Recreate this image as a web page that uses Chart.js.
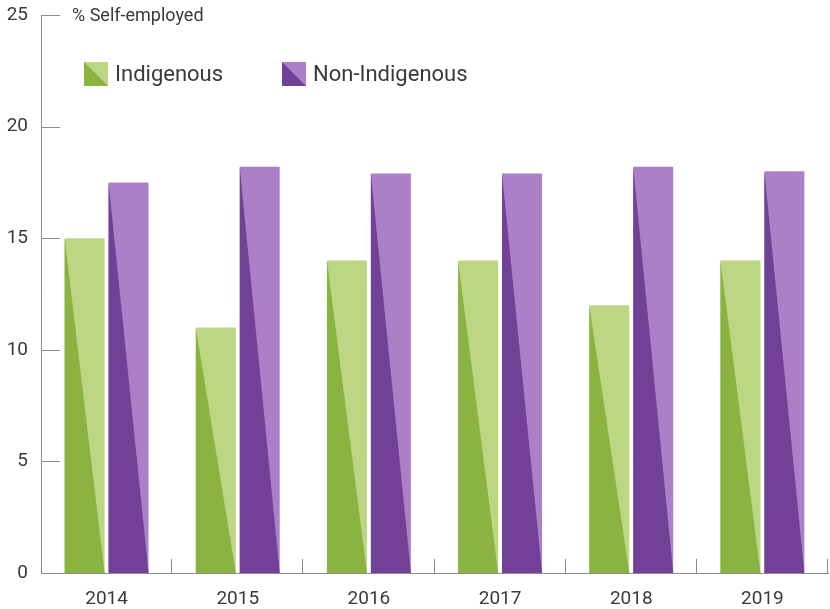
<!DOCTYPE html>
<html>
<head>
<meta charset="utf-8">
<script src="https://cdn.jsdelivr.net/npm/chart.js@4.4.1/dist/chart.umd.min.js"></script>
<style>
    body { margin: 0; background: #fff; }
</style>
</head>
<body>
<canvas id="selfEmployed" width="830" height="609"></canvas>
<script>
const years = ['2014', '2015', '2016', '2017', '2018', '2019'];
const indigenous = [15, 11, 14, 14, 12, 14];
const nonIndigenous = [17.5, 18.2, 17.9, 17.9, 18.2, 18.0];
const yTicks = [0, 5, 10, 15, 20, 25];

const FONT = 'Roboto, "Open Sans", sans-serif';
const TEXT = '#3a3a3a';
const AXIS = '#8c8c8c';

// light = top-right half, dark = bottom-left half
const colors = [
    { light: '#bcd684', dark: '#8ab342' },
    { light: '#ac80c6', dark: '#734098' },
];

// draws the dark triangle over each bar
const splitBars = {
    id: 'splitBars',
    afterDatasetsDraw(chart) {
        const ctx = chart.ctx;
        chart.data.datasets.forEach((ds, i) => {
            let meta = chart.getDatasetMeta(i);
            meta.data.forEach(bar => {
                let left = bar.x - bar.width / 2;
                let right = bar.x + bar.width / 2;
                ctx.save();
                ctx.fillStyle = colors[i].dark;
                ctx.beginPath();
                ctx.moveTo(left, bar.y);
                ctx.lineTo(left, bar.base);
                ctx.lineTo(right, bar.base);
                ctx.closePath();
                ctx.fill();
                ctx.restore();
            });
        });
    }
};

// inner tick marks, title and legend
const decorations = {
    id: 'decorations',
    afterDraw(chart) {
        const ctx = chart.ctx;
        const area = chart.chartArea;
        const x = chart.scales.x;
        const y = chart.scales.y;
        ctx.save();
        ctx.strokeStyle = AXIS;
        ctx.lineWidth = 1;
        ctx.beginPath();
        for (let v of yTicks) {
            let py = Math.round(y.getPixelForValue(v)) + 0.5;
            ctx.moveTo(area.left, py);
            ctx.lineTo(area.left + 19, py);
        }
        for (let i = 1; i <= years.length; i++) {
            let px = Math.round(x.getPixelForValue(i - 0.5)) - 0.5;
            ctx.moveTo(px, area.bottom);
            ctx.lineTo(px, area.bottom - 14);
        }
        ctx.stroke();

        ctx.fillStyle = TEXT;
        ctx.textBaseline = 'middle';
        ctx.font = '18px ' + FONT;
        ctx.fillText('% Self-employed', area.left + 31, y.getPixelForValue(25) + 1);

        // legend
        const items = [
            { label: 'Indigenous', x: 84 },
            { label: 'Non-Indigenous', x: 282 },
        ];
        ctx.font = '22px ' + FONT;
        items.forEach((item, i) => {
            let bx = item.x, by = 62, s = 24;
            ctx.fillStyle = colors[i].light;
            ctx.fillRect(bx, by, s, s);
            ctx.fillStyle = colors[i].dark;
            ctx.beginPath();
            ctx.moveTo(bx, by);
            ctx.lineTo(bx, by + s);
            ctx.lineTo(bx + s, by + s);
            ctx.closePath();
            ctx.fill();
            ctx.fillStyle = TEXT;
            ctx.fillText(item.label, bx + s + 7, by + s / 2 + 1);
        });
        ctx.restore();
    }
};

new Chart(document.getElementById('selfEmployed'), {
    type: 'bar',
    data: {
        labels: years,
        datasets: [
            {
                label: 'Indigenous',
                data: indigenous,
                backgroundColor: colors[0].light,
                categoryPercentage: 0.67,
                barPercentage: 0.91,
            },
            {
                label: 'Non-Indigenous',
                data: nonIndigenous,
                backgroundColor: colors[1].light,
                categoryPercentage: 0.67,
                barPercentage: 0.91,
            },
        ],
    },
    options: {
        responsive: false,
        animation: false,
        layout: { padding: { top: 15, right: 2, left: 0, bottom: 0 } },
        plugins: {
            legend: { display: false },
            tooltip: { enabled: false },
        },
        scales: {
            x: {
                grid: { display: false, drawTicks: false },
                border: { color: AXIS, width: 1 },
                ticks: {
                    color: TEXT,
                    font: { family: FONT, size: 19 },
                    padding: 15,
                },
                afterFit: (scale) => {
                    scale.height = 36;
                    scale.paddingLeft = 0;
                    scale.paddingRight = 0;
                },
            },
            y: {
                min: 0,
                max: 25,
                grid: { display: false, drawTicks: false },
                border: { color: AXIS, width: 1 },
                ticks: {
                    stepSize: 5,
                    color: TEXT,
                    font: { family: FONT, size: 19 },
                    padding: 13,
                },
                afterFit: (scale) => {
                    scale.width = 41;
                    scale.paddingTop = 0;
                    scale.paddingBottom = 0;
                },
            },
        },
    },
    plugins: [splitBars, decorations],
});
</script>
</body>
</html>
